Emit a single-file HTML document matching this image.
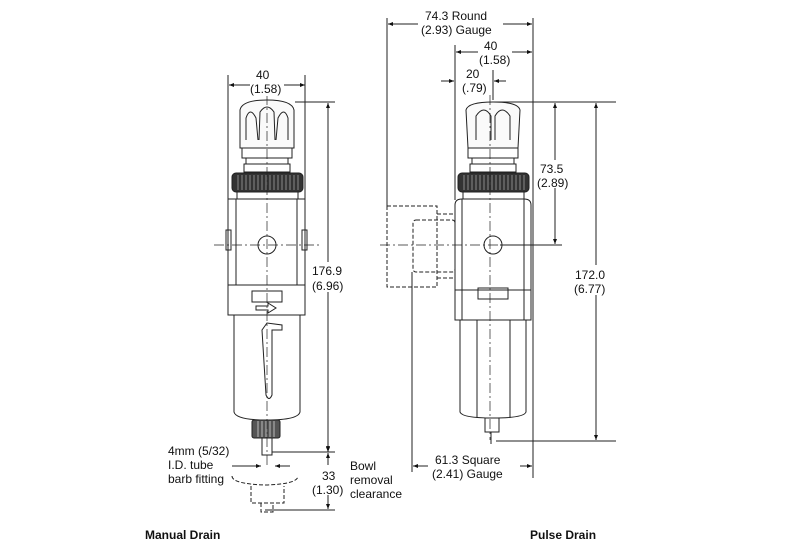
<!DOCTYPE html>
<html><head><meta charset="utf-8"><style>
html,body{margin:0;padding:0;background:#fff}
svg{display:block}
text{font-family:"Liberation Sans",Arial,sans-serif;font-size:12px;fill:#111}
</style></head><body>
<svg width="787" height="551" viewBox="0 0 787 551" xmlns="http://www.w3.org/2000/svg">
<defs>
<marker id="a" viewBox="0 0 10 10" refX="10" refY="5" markerWidth="7" markerHeight="5" orient="auto-start-reverse"><path d="M0,1L10,5L0,9z" fill="#111"/></marker>
</defs>
<g stroke="#222" fill="none" stroke-width="1">
<!-- LEFT UNIT -->
<path d="M240,110 Q242,100 267,100 Q292,100 294,110 L294,148 L240,148 Z" fill="#fafafa"/>
<path d="M246,140 L246,118 Q250,106 256,118 L258,140"/>
<path d="M259,140 L260,112 Q267,102 274,112 L275,140"/>
<path d="M276,140 L278,118 Q284,106 288,118 L288,140"/>
<rect x="242" y="148" width="50" height="10"/>
<rect x="246" y="158" width="42" height="6"/>
<rect x="244" y="164" width="46" height="8"/>
<rect x="232" y="173" width="71" height="19" rx="4" fill="#333"/>
<g stroke="#888" stroke-width="1"><path d="M238,175v15M242,175v15M246,175v15M250,175v15M254,175v15M258,175v15M262,175v15M266,175v15M270,175v15M274,175v15M278,175v15M282,175v15M286,175v15M290,175v15M294,175v15M298,175v15"/></g>
<rect x="237" y="192" width="61" height="7"/>
<rect x="228" y="199" width="77" height="86"/>
<path d="M236,199v86M297,199v86"/>
<rect x="226" y="230" width="5" height="20"/><rect x="302" y="230" width="5" height="20"/>
<circle cx="267" cy="245" r="9"/>
<rect x="228" y="285" width="77" height="30"/>
<rect x="252" y="291" width="30" height="11"/>
<path d="M256,306h12v-3l8,5l-8,5v-3h-12z"/>
<path d="M234,315 L234,412 Q236,420 267,420 Q298,420 300,412 L300,315"/>
<path d="M262,330 L267,323 L282,325 L282,330 L272,330 L272,395 Q269,402 266,395 L262,330 Z"/>
<rect x="252" y="420" width="28" height="18" rx="2" fill="#555"/>
<path d="M258,421v16M262,421v16M266,421v16M270,421v16M274,421v16" stroke="#bbb"/>
<rect x="262" y="438" width="10" height="17"/>
<!-- dashed removed bowl -->
<g stroke-dasharray="4,2">
<path d="M232,476 Q232,484 266,485 Q298,484 298,476"/>
<path d="M251,486 v17 h33 v-17"/>
<path d="M261,503 v9 h12 v-9"/>
</g>
<!-- center lines -->
<path d="M267,95v370M214,245h106" stroke-dasharray="10,3,2,3" stroke-width="0.7"/>
<!-- dims left -->
<path d="M228,75v125M305,75v125"/>
<path d="M229,85h76" marker-start="url(#a)" marker-end="url(#a)"/>
<path d="M295,102h40M272,452h63M265,510h70"/>
<path d="M328,103v348" marker-start="url(#a)" marker-end="url(#a)"/>
<path d="M328,453v56" marker-start="url(#a)" marker-end="url(#a)"/>
<path d="M328,440v12" marker-end="url(#a)"/>
<path d="M232,466h29" marker-end="url(#a)"/><path d="M290,466h-15" marker-end="url(#a)"/>

<!-- RIGHT UNIT -->
<path d="M466,110 Q468,102 493,102 Q518,102 520,110 L518,148 L468,148 Z" fill="#fafafa"/>
<path d="M476,140 L476,116 Q484,104 491,116 L491,140"/>
<path d="M495,140 L495,116 Q502,104 510,116 L510,140"/>
<rect x="468" y="148" width="50" height="10"/>
<rect x="472" y="158" width="42" height="6"/>
<rect x="470" y="164" width="46" height="8"/>
<rect x="458" y="173" width="71" height="19" rx="4" fill="#333"/>
<g stroke="#888"><path d="M464,175v15M468,175v15M472,175v15M476,175v15M480,175v15M484,175v15M488,175v15M492,175v15M496,175v15M500,175v15M504,175v15M508,175v15M512,175v15M516,175v15M520,175v15M524,175v15"/></g>
<rect x="463" y="192" width="61" height="7"/>
<path d="M455,205 Q455,199 462,199 L524,199 Q531,199 531,205 L531,320 L455,320 Z"/>
<path d="M462,199v121M524,199v121M455,290h76"/>
<circle cx="493" cy="245" r="9"/>
<rect x="478" y="288" width="30" height="11"/>
<path d="M460,320 L460,412 Q462,418 493,418 Q524,418 526,412 L526,320"/>
<path d="M477,320v98M510,320v98"/>
<rect x="485" y="418" width="14" height="14"/>
<path d="M491,432v12"/>
<!-- gauge dashed -->
<g stroke-dasharray="4,2">
<rect x="387" y="206" width="50" height="81"/>
<rect x="413" y="220" width="42" height="52" rx="3"/>
<path d="M437,214h18M437,278h18"/>
</g>
<path d="M490,95v345M380,245h140" stroke-dasharray="10,3,2,3" stroke-width="0.7"/>
<!-- dims right -->
<path d="M387,18v188M533,18v460M455,45v155M493,70v30M412,272v200"/>
<path d="M388,24h144" marker-start="url(#a)" marker-end="url(#a)"/>
<path d="M456,52h76" marker-start="url(#a)" marker-end="url(#a)"/>
<path d="M441,81h13" marker-end="url(#a)"/><path d="M506,81h-12" marker-end="url(#a)"/>
<path d="M493,102h123M500,245h62M496,441h120"/>
<path d="M555,103v141" marker-start="url(#a)" marker-end="url(#a)"/>
<path d="M596,103v337" marker-start="url(#a)" marker-end="url(#a)"/>
<path d="M413,466h119" marker-start="url(#a)" marker-end="url(#a)"/>
</g>
<!-- text masks -->
<g fill="#fff">
<rect x="418" y="8" width="85" height="28"/>
<rect x="478" y="38" width="34" height="28"/>
<rect x="538" y="160" width="36" height="28"/>
<rect x="574" y="265" width="40" height="30"/>
<rect x="428" y="452" width="92" height="28"/>
<rect x="310" y="262" width="40" height="30"/>
<rect x="250" y="68" width="34" height="28"/>
<rect x="314" y="465" width="34" height="30"/>
</g>
<text x="425" y="20">74.3  Round</text>
<text x="421" y="34">(2.93) Gauge</text>
<text x="484" y="50">40</text>
<text x="479" y="64">(1.58)</text>
<text x="466" y="78">20</text>
<text x="462" y="92">(.79)</text>
<text x="540" y="173">73.5</text>
<text x="537" y="187">(2.89)</text>
<text x="575" y="279">172.0</text>
<text x="574" y="293">(6.77)</text>
<text x="435" y="464">61.3  Square</text>
<text x="432" y="478">(2.41) Gauge</text>
<text x="256" y="79">40</text>
<text x="250" y="93">(1.58)</text>
<text x="312" y="275">176.9</text>
<text x="312" y="290">(6.96)</text>
<text x="168" y="455">4mm (5/32)</text>
<text x="168" y="469">I.D. tube</text>
<text x="168" y="483">barb fitting</text>
<text x="322" y="480">33</text>
<text x="312" y="494">(1.30)</text>
<text x="350" y="470">Bowl</text>
<text x="350" y="484">removal</text>
<text x="350" y="498">clearance</text>
<text x="145" y="539" style="font-weight:bold">Manual Drain</text>
<text x="530" y="539" style="font-weight:bold">Pulse Drain</text>
</svg>
</body></html>
